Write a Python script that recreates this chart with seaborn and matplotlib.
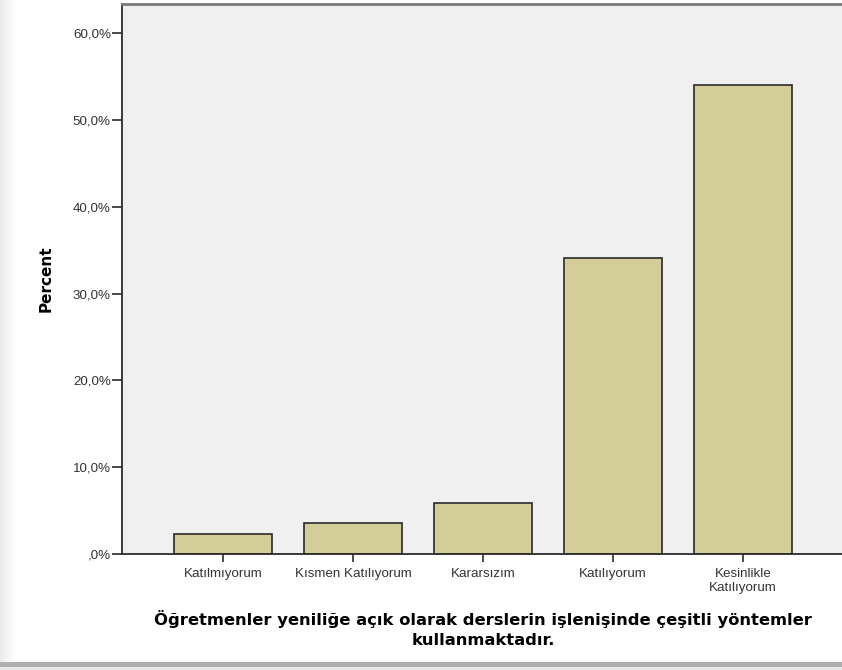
import matplotlib
matplotlib.use("Agg")
import matplotlib.pyplot as plt
import matplotlib.ticker as mticker
from matplotlib.patches import Rectangle
import seaborn as sns
import pandas as pd

# values
categories = ["Katılmıyorum", "Kısmen Katılıyorum", "Kararsızım", "Katılıyorum", "Kesinlikle\nKatılıyorum"]
percents = [2.35, 3.53, 5.88, 34.12, 54.12]
y_ticks = [0, 10, 20, 30, 40, 50, 60]
x_title = "Öğretmenler yeniliğe açık olarak derslerin işlenişinde çeşitli yöntemler\nkullanmaktadır."
y_title = "Percent"

df = pd.DataFrame({"category": categories, "percent": percents})

sns.set_style("white")
plt.rcParams["font.family"] = ["Liberation Sans", "DejaVu Sans"]

W, H = 842, 670
fig = plt.figure(figsize=(W / 100, H / 100), dpi=100)
fig.patch.set_facecolor("white")

# page shadow on the left and bottom
for i in range(16):
    shade = 0.92 + 0.08 * (i / 15)
    fig.patches.append(Rectangle((i / W, 0), 1 / W, 1, transform=fig.transFigure,
                                 facecolor=(shade, shade, shade), edgecolor="none", zorder=0))
fig.patches.append(Rectangle((0, 3 / H), 1, 5 / H, transform=fig.transFigure,
                             facecolor="#b0b0b0", edgecolor="none", zorder=0))
fig.patches.append(Rectangle((0, 0), 1, 3 / H, transform=fig.transFigure,
                             facecolor="#e8e8e8", edgecolor="none", zorder=0))

left, right, top, bottom = 122, 844, 4, 554
ax = fig.add_axes([left / W, 1 - bottom / H, (right - left) / W, (bottom - top) / H])
ax.set_facecolor("#f0f0f0")

sns.barplot(data=df, x="category", y="percent", color="#d3ce97", width=0.754,
            edgecolor="#2b2b2b", linewidth=1.2, saturation=1, ax=ax, zorder=2)

ax.set_xlim(-0.777, 4.777)
ax.set_ylim(0, 63.4)
ax.set_yticks(y_ticks)
ax.yaxis.set_major_formatter(mticker.FuncFormatter(
    lambda v, p: ",0%" if v == 0 else f"{v:.1f}%".replace(".", ",")))

ax.tick_params(axis="y", length=7, width=1.2, color="#2b2b2b", labelsize=9.6,
               labelcolor="#333333", left=True, pad=1)
ax.tick_params(axis="x", length=6, width=1.2, color="#2b2b2b", labelsize=9.6,
               labelcolor="#333333", bottom=True, pad=4)
for lbl in ax.get_xticklabels():
    lbl.set_linespacing(1.2)

for s in ["left", "bottom"]:
    ax.spines[s].set_color("#2b2b2b")
    ax.spines[s].set_linewidth(1.3)
ax.spines["top"].set_color("#7a7a7a")
ax.spines["top"].set_linewidth(2)
ax.spines["right"].set_visible(False)

ax.set_xlabel(x_title, fontsize=11.8, fontweight="bold", family=["DejaVu Sans"],
              labelpad=12, linespacing=1.38, color="black")
ax.set_ylabel(y_title, fontsize=11, fontweight="bold", family=["DejaVu Sans"],
              labelpad=14, color="black")

fig.savefig("out.png", dpi=100)
